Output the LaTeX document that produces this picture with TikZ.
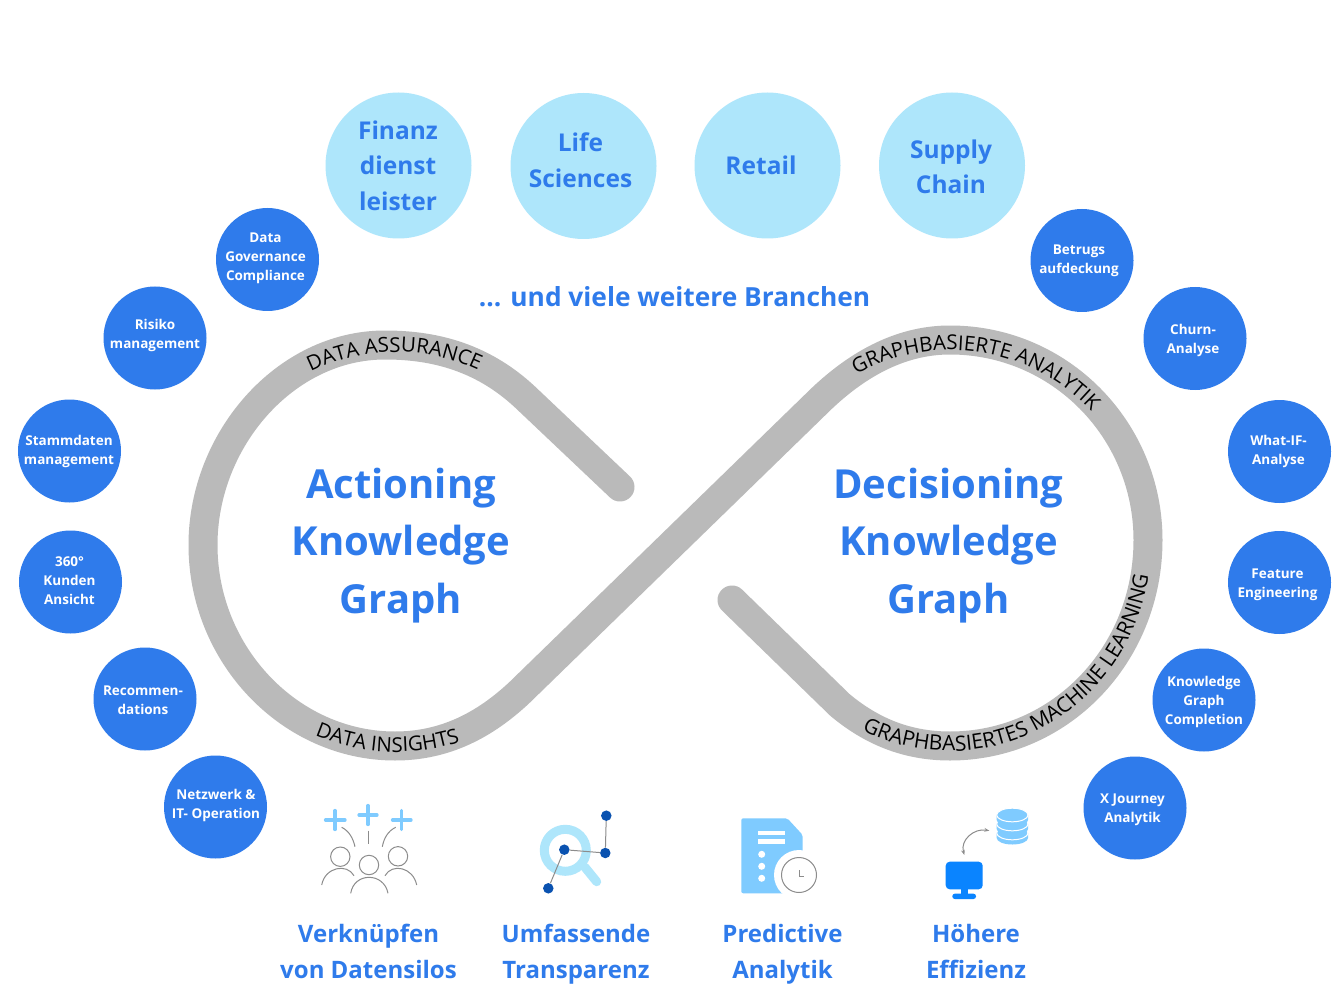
\documentclass[tikz,border=0pt]{standalone}
\usepackage{fontspec}
\setmainfont{Open Sans}
\usetikzlibrary{decorations.text,arrows.meta}
\definecolor{blueA}{HTML}{2F7BEB}
\definecolor{lightA}{HTML}{AEE6FB}
\definecolor{loopgray}{HTML}{BABABA}
\definecolor{iconlight}{HTML}{7FCBFF}
\definecolor{icondark}{HTML}{0A52B0}
\definecolor{iconmon}{HTML}{0A84FF}
\definecolor{icongray}{HTML}{8C8C8C}
\newcommand{\lbl}[2]{\fontsize{#1}{#2}\selectfont\bfseries}
\tikzset{
  x=1pt,y=-1pt,
  smallb/.style={circle,fill=blueA,minimum size=103pt,inner sep=0pt},
  bigb/.style={circle,fill=lightA,minimum size=146pt,inner sep=0pt},
  smallt/.style={text=white,align=center,font=\lbl{13.5}{19}},
  bigt/.style={text=blueA,align=center,font=\lbl{24.5}{35.5}},
  headt/.style={text=blueA,align=center,font=\lbl{40}{57.5}},
  capt/.style={text=blueA,align=center,font=\lbl{24}{36}},
  ringt/.style 2 args={postaction={decorate,decoration={text along path,text align=center,text={|\fontsize{#1}{#1}\selectfont|#2}}}},
  iconline/.style={draw=icongray,line width=1pt},
  plusl/.style={draw=iconlight,line width=3.2pt,line cap=round},
  graphdot/.style={circle,fill=icondark,minimum size=10.5pt,inner sep=0pt},
}
\begin{document}
\begin{tikzpicture}
\useasboundingbox[fill=white] (0,0) rectangle (1344,1008);
% infinity loop
\draw[loopgray,line width=29pt,line cap=round,line join=round]
 (620,487) -- (525,397) .. controls (480,355) and (430,345) .. (385,345)
 .. controls (285,345) and (203,440) .. (203,545)
 .. controls (203,655) and (290,746) .. (395,746)
 .. controls (445,746) and (485,725) .. (520,692)
 -- (815,405) .. controls (860,360) and (905,340) .. (950,340)
 .. controls (1060,340) and (1148,430) .. (1148,540)
 .. controls (1148,655) and (1060,746) .. (950,746)
 .. controls (905,746) and (870,730) .. (840,705) -- (732,600);
% ring labels
\path[ringt={20.5}{DATA ASSURANCE}] (396,545)+(238:193) arc (238:301:193);
\path[ringt={20.5}{DATA INSIGHTS}] (396,545)+(116:207) arc (116:69:207);
\path[ringt={20.5}{GRAPHBASIERTE ANALYTIK}] (950,543)+(235:193) arc (235:323:193);
\path[ringt={21}{GRAPHBASIERTES MACHINE LEARNING}] (950,543)+(122:201 and 208) arc (122:3:201 and 208);
% big bubbles
\node[bigb] (b1) at (398.5,165.5) {};
\node[bigb] (b2) at (583.5,166) {};
\node[bigb] (b3) at (767.5,165.5) {};
\node[bigb] (b4) at (952,165.5) {};
\node[bigt] (bt1) at (398,165.5) {Finanz\\dienst\\leister};
\node[bigt] (bt2) at (580.5,160) {Life\\Sciences};
\node[bigt] (bt3) at (761,165.5) {Retail};
\node[bigt] (bt4) at (951,167) {Supply\\Chain};
% left bubbles
\node[smallb] (l1) at (267.5,259.5) {};
\node[smallb] (l2) at (155,338) {};
\node[smallb] (l3) at (69.5,451) {};
\node[smallb] (l4) at (70.5,582) {};
\node[smallb] (l5) at (145,699) {};
\node[smallb] (l6) at (215.5,807) {};
\node[smallt] (lt1) at (265.5,258.5) {Data\\Governance\\Compliance};
\node[smallt] (lt2) at (155,335) {Risiko\\management};
\node[smallt] (lt3) at (69,451) {Stammdaten\\management};
\node[smallt] (lt4) at (69.5,580.5) {360°\\Kunden\\Ansicht};
\node[smallt] (lt5) at (143,700) {Recommen-\\dations};
\node[smallt] (lt6) at (216,805) {Netzwerk \&\\IT- Operation};
% right bubbles
\node[smallb] (r1) at (1082,260.5) {};
\node[smallb] (r2) at (1195,338.5) {};
\node[smallb] (r3) at (1279.5,451.5) {};
\node[smallb] (r4) at (1279.5,582.5) {};
\node[smallb] (r5) at (1204,700) {};
\node[smallb] (r6) at (1135,808) {};
\node[smallt] (rt1) at (1079,261) {Betrugs\\aufdeckung};
\node[smallt] (rt2) at (1193,340) {Churn-\\Analyse};
\node[smallt] (rt3) at (1278.5,451.5) {What-IF-\\Analyse};
\node[smallt] (rt4) at (1277.5,585) {Feature\\Engineering};
\node[smallt] (rt5) at (1204,701.5) {Knowledge\\Graph\\Completion};
\node[smallt] (rt6) at (1132.5,810) {X Journey\\Analytik};
% headings
\node[text=blueA,font=\lbl{26.3}{34}] (t0) at (674.5,296.5) {... und viele weitere Branchen};
\node[headt] (h1) at (401,545.5) {Actioning\\Knowledge\\Graph};
\node[headt] (h2) at (948.5,545.5) {Decisioning\\Knowledge\\Graph};
\node[capt] (c1) at (368.5,951) {Verknüpfen\\von Datensilos};
\node[capt] (c2) at (576,954) {Umfassende\\Transparenz};
\node[capt] (c3) at (782.5,954) {Predictive\\Analytik};
\node[capt] (c4) at (976,951) {Höhere\\Effizienz};
% icon: people
\draw[plusl] (325.5,820)--(345,820) (335,810.5)--(335,829.5);
\draw[plusl] (359,815)--(377,815) (368,805.5)--(368,824.5);
\draw[plusl] (392.5,820)--(411,820) (401.7,810.5)--(401.7,829.5);
\draw[iconline] (341.7,827.3) .. controls (349,831) and (353,838) .. (355,846.7);
\draw[iconline] (368.7,830.7) -- (368.7,844.3);
\draw[iconline] (395.7,827.3) .. controls (388,831) and (384,838) .. (382.3,846.7);
\node[draw=icongray,line width=1pt,circle,minimum size=19.4pt,inner sep=0pt] (p1) at (340.3,856.7) {};
\node[draw=icongray,line width=1pt,circle,minimum size=19.4pt,inner sep=0pt] (p2) at (369,865) {};
\node[draw=icongray,line width=1pt,circle,minimum size=19.4pt,inner sep=0pt] (p3) at (398,856.3) {};
\draw[iconline] (321.7,885) .. controls (325,867) and (347,863) .. (354,875.7);
\draw[iconline] (350.7,893.3) .. controls (354,872) and (384,872) .. (388,893.3);
\draw[iconline] (385,875.7) .. controls (392,863) and (413,867) .. (416.7,885);
% icon: magnifier graph
\draw[lightA,line width=9pt,line cap=round] (585,867.3) -- (596.7,881.7);
\node[draw=lightA,line width=9pt,circle,minimum size=42pt,inner sep=0pt] (mag) at (565.3,850.3) {};
\node[graphdot] (g1) at (564.3,849.7) {};
\node[graphdot] (g2) at (606.3,815.7) {};
\node[graphdot] (g3) at (605.3,853) {};
\node[graphdot] (g4) at (548.3,888.3) {};
\draw[icongray,line width=1pt] (g1)--(g3) (g3)--(g2) (g1)--(g4);
% icon: document and clock
\fill[iconlight,rounded corners=2pt] (741.3,818.3) -- (787.3,818.3) -- (802.7,835) -- (802.7,893.3) -- (741.3,893.3) -- cycle;
\fill[white] (758.3,830.7) rectangle (785,835);
\fill[white] (758.3,839.3) rectangle (785,843.7);
\fill[white] (761.7,854.3) circle (3.5) (761.7,866.3) circle (3.5) (761.7,878.3) circle (3.5);
\fill[white] (799,875) circle (25);
\node[draw=icongray,line width=1pt,circle,fill=white,minimum size=35pt,inner sep=0pt] (clk) at (799,875) {};
\draw[icongray,line width=1pt] (799,870)--(799,876)--(804.3,876);
% icon: monitor and database
\fill[iconmon,rounded corners=4pt] (945.7,861.7) rectangle (982.7,889.3);
\fill[iconmon] (961,889) rectangle (967.5,895);
\fill[iconmon,rounded corners=2.5pt] (952.3,893.7) rectangle (976,899);
\foreach \yy in {833,824,815}{
  \fill[iconlight] (996.7,\yy) -- (996.7,\yy+5) arc (180:0:15.65 and 6.5) -- (1028,\yy) -- cycle;
  \draw[white,line width=1pt,fill=iconlight] (1012.35,\yy) ellipse (15.65 and 6.8);
}
\coordinate (arA) at (964.3,855);
\coordinate (arB) at (989.3,830.7);
\draw[icongray,line width=1pt,{Stealth[length=5pt]}-{Stealth[length=5pt]}] (arA) .. controls (960,840) and (974,828) .. (arB);
\end{tikzpicture}
\end{document}
